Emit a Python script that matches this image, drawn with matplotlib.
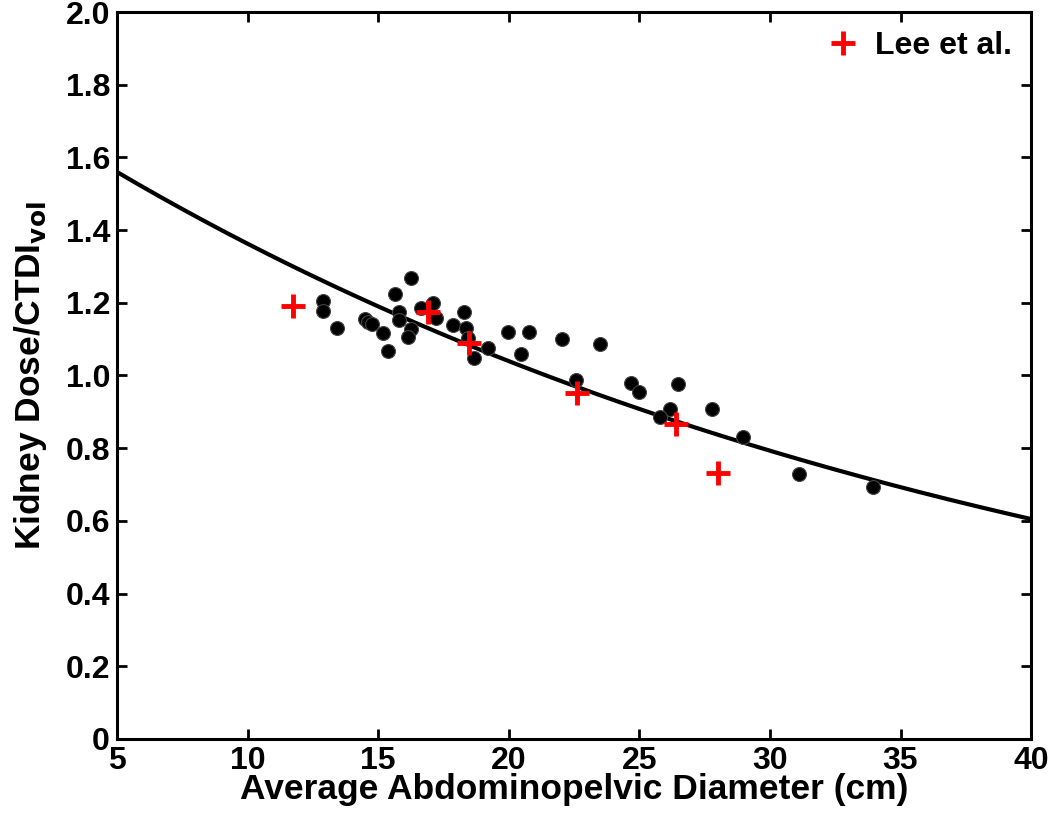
import numpy as np
import matplotlib.pyplot as plt

plt.rcParams['font.family'] = ['Liberation Sans', 'DejaVu Sans']
plt.rcParams['font.weight'] = 'bold'

# measured data (diameter cm, kidney dose / CTDIvol)
diam = [12.87, 12.87, 13.44, 14.48, 14.6, 14.75, 15.17, 15.36, 15.63, 16.24,
        15.78, 15.78, 16.24, 16.13, 16.63, 17.09, 17.2, 17.86, 18.28, 18.35,
        18.43, 18.66, 19.2, 19.97, 20.77, 20.46, 22.05, 23.5, 22.58, 24.69,
        24.99, 26.49, 26.18, 25.8, 27.79, 28.98, 31.13, 33.93]
ratio = [1.205, 1.178, 1.131, 1.155, 1.147, 1.142, 1.117, 1.067, 1.224, 1.268,
         1.175, 1.153, 1.128, 1.106, 1.186, 1.199, 1.158, 1.139, 1.175, 1.131,
         1.103, 1.048, 1.076, 1.12, 1.12, 1.059, 1.10, 1.087, 0.988, 0.979,
         0.955, 0.977, 0.908, 0.886, 0.908, 0.831, 0.73, 0.693]

# Lee et al.
lee_diam = [11.75, 16.9, 18.47, 22.6, 26.41, 28.02]
lee_ratio = [1.192, 1.175, 1.089, 0.952, 0.867, 0.731]

# exponential fit y = a*exp(-b*x)
fit_a = 1.786
fit_b = 0.02706

fig = plt.figure(figsize=(10.5, 8.24), dpi=100)
ax = fig.add_axes([0.1114, 0.1032, 0.8706, 0.8822])

xf = np.linspace(5, 40, 300)
ax.plot(xf, fit_a * np.exp(-fit_b * xf), color='black', lw=3, zorder=2)
ax.plot(diam, ratio, 'o', color='black', mec='#444444', mew=0.8, ms=10, zorder=3)
ax.plot(lee_diam, lee_ratio, '+', color='red', ms=17, mew=3.5, zorder=4, label='Lee et al.')

ax.set_xlim(5, 40)
ax.set_ylim(0, 2.0)
ax.set_xticks(np.arange(5, 41, 5))
ax.set_yticks(np.arange(0, 2.01, 0.2))
ax.set_yticklabels(['0'] + [f'{v:.1f}' for v in np.arange(0.2, 2.01, 0.2)])
ax.tick_params(direction='in', length=7, width=2, top=True, right=True,
               labelsize=23, pad=5)
for s in ax.spines.values():
    s.set_linewidth(2.2)

ax.set_xlabel('Average Abdominopelvic Diameter (cm)', fontsize=25.5, fontweight='bold', labelpad=-2)
ax.set_ylabel(r'Kidney Dose/CTDI$_{\mathbf{vol}}$', fontsize=25.5, fontweight='bold', labelpad=12)

ax.legend(loc='upper right', frameon=False, fontsize=23, handlelength=1.0,
          handletextpad=0.5, borderaxespad=0.2, numpoints=1)

fig.savefig('out.png', dpi=100)
